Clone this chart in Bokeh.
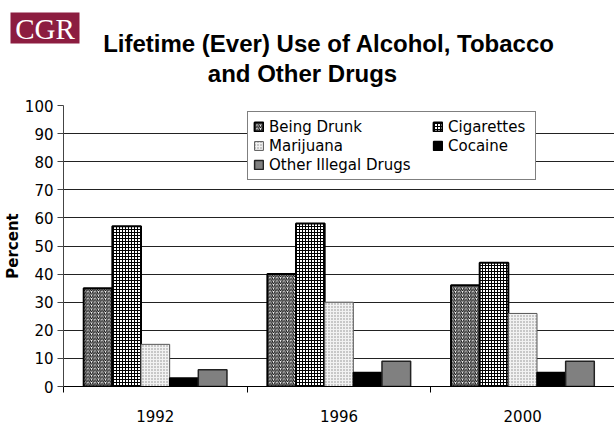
from bokeh.plotting import figure
from bokeh.layouts import column, row
from bokeh.models import (Range1d, FixedTicker, Legend, LegendItem, ColumnDataSource)
from bokeh.core.properties import value
from bokeh.embed import file_html
from bokeh.resources import INLINE

# ---------------- data ----------------
years = ["1992", "1996", "2000"]
series = ["Being Drunk", "Cigarettes", "Marijuana", "Cocaine", "Other Illegal Drugs"]
being_drunk = [35, 40, 36]
cigarettes = [57, 58, 44]
marijuana = [15, 30, 26]
cocaine = [3, 5, 5]
other_drugs = [6, 9, 9]
y_ticks = [0, 10, 20, 30, 40, 50, 60, 70, 80, 90, 100]
title_lines = ["Lifetime (Ever) Use of Alcohol, Tobacco", "and Other Drugs"]
logo_text = "CGR"
y_label = "Percent"
values = [being_drunk, cigarettes, marijuana, cocaine, other_drugs]

# ---------------- styles ----------------
styles = [
    dict(fill_color="white", hatch_pattern="/", hatch_color="black", hatch_scale=3.5, hatch_weight=1,
         line_color="black", line_width=2),
    dict(fill_color="white", hatch_pattern="+", hatch_color="black", hatch_scale=3, hatch_weight=1,
         line_color="black", line_width=2),
    dict(fill_color="#f2f2f2", hatch_pattern=".", hatch_color="#8a8a8a", hatch_scale=3, hatch_weight=1,
         line_color="#555555", line_width=1),
    dict(fill_color="black", line_color="black", line_width=1.5),
    dict(fill_color="#808080", line_color="#222222", line_width=1.5),
]

FONT = "DejaVu Sans"
W = 614
HEAD_H = 95
MAIN_H = 424 - HEAD_H
FL = 63  # left edge of the plot frame

# ---------------- header (logo + title) ----------------
head = figure(width=W, height=HEAD_H, output_backend="svg", toolbar_location=None,
              x_range=Range1d(0, W), y_range=Range1d(HEAD_H, 0),
              x_axis_type=None, y_axis_type=None,
              min_border=0, min_border_left=0, min_border_right=0, min_border_top=0, min_border_bottom=0)
head.outline_line_color = None
head.xgrid.grid_line_color = None
head.ygrid.grid_line_color = None
head.quad(left=10, right=79, top=12, bottom=43, fill_color="#8C1D40", line_color=None)
head.text(x=[44.5], y=[28.5], text=[logo_text], text_font=value("Liberation Serif"),
          text_font_size="29px", text_color="white", text_align="center", text_baseline="middle")
head.text(x=[328.5, 302], y=[43, 73], text=title_lines, text_font=value("Liberation Sans"),
          text_font_style="bold", text_font_size="24px", text_color="black",
          text_align="center", text_baseline="alphabetic")

# ---------------- main chart ----------------
p = figure(width=W, height=MAIN_H, output_backend="svg", toolbar_location=None,
           x_range=Range1d(0, 3), y_range=Range1d(0, 100),
           min_border_left=FL, min_border_right=0, min_border_top=10, min_border_bottom=36)
p.outline_line_color = None
p.background_fill_color = "white"
p.border_fill_color = "white"

bar_w = 0.156
renderers = []
n = len(series)
for k, (name, vals, st) in enumerate(zip(series, values, styles)):
    xs = [i + 0.5 + (k - (n - 1) / 2) * bar_w for i in range(len(years))]
    src = ColumnDataSource(dict(x=xs, top=vals))
    r = p.vbar(x="x", top="top", width=bar_w, bottom=0, source=src, **st)
    renderers.append(r)

# axes
p.xaxis.ticker = FixedTicker(ticks=[i + 0.5 for i in range(len(years))],
                             minor_ticks=list(range(len(years) + 1)))
p.xaxis.major_label_overrides = {i + 0.5: y for i, y in enumerate(years)}
p.xaxis.major_tick_line_color = None
p.xaxis.major_tick_out = 0
p.xaxis.major_tick_in = 0
p.xaxis.minor_tick_out = 6
p.xaxis.minor_tick_in = 0
p.xaxis.minor_tick_line_color = "black"
p.xaxis.axis_line_color = "black"
p.xaxis.major_label_standoff = 17
p.xaxis.major_label_text_font = FONT
p.xaxis.major_label_text_font_size = "15px"
p.xaxis.major_label_text_color = "black"

p.yaxis.ticker = FixedTicker(ticks=y_ticks)
p.yaxis.major_tick_out = 6
p.yaxis.major_tick_in = 0
p.yaxis.minor_tick_line_color = None
p.yaxis.axis_line_color = "#444444"
p.yaxis.major_tick_line_color = "#444444"
p.yaxis.major_label_standoff = 4
p.yaxis.major_label_text_font = FONT
p.yaxis.major_label_text_font_size = "15px"
p.yaxis.major_label_text_color = "black"
p.yaxis.axis_label = y_label
p.yaxis.axis_label_text_font = FONT
p.yaxis.axis_label_text_font_style = "bold"
p.yaxis.axis_label_text_font_size = "15px"
p.yaxis.axis_label_text_color = "black"
p.yaxis.axis_label_standoff = 0

p.xgrid.grid_line_color = None
p.ygrid.ticker = FixedTicker(ticks=y_ticks[1:])
p.ygrid.grid_line_color = "#222222"
p.ygrid.grid_line_width = 1

# legends (two columns via two legends)
leg_common = dict(label_text_font=FONT, label_text_font_size="15px", label_text_color="black",
                  glyph_width=11, glyph_height=11, label_height=19, label_standoff=5,
                  spacing=0, padding=5, margin=0)
leg1 = Legend(items=[LegendItem(label=series[i], renderers=[renderers[i]]) for i in (0, 2, 4)],
              location=(184, 206), label_width=261,
              border_line_color="black", border_line_width=1,
              background_fill_color="white", background_fill_alpha=1, **leg_common)
leg2 = Legend(items=[LegendItem(label=series[i], renderers=[renderers[i]]) for i in (1, 3)],
              location=(369, 231),
              border_line_color=None, background_fill_alpha=0, **leg_common)
p.add_layout(leg1)
p.add_layout(leg2)

layout = column(row(head), row(p), spacing=0)

html = file_html(layout, INLINE)
html = html.replace("<head>", "<head><style>html,body{margin:0;padding:0;overflow:hidden;}</style>", 1)
open("out.html", "w").write(html)
